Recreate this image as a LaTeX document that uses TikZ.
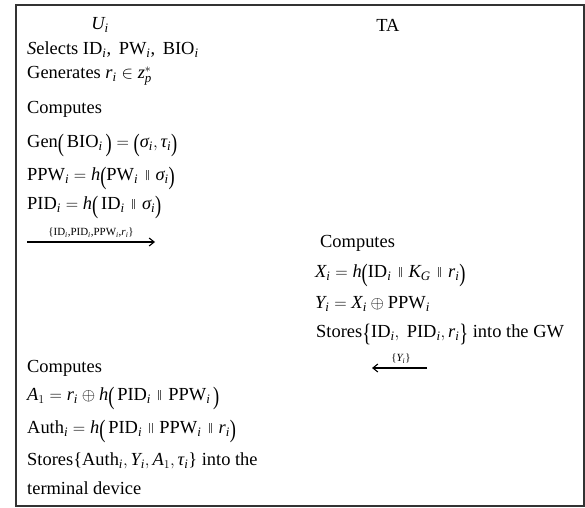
\documentclass[tikz,border=0pt]{standalone}
\usepackage{amsmath}
\usepackage{graphicx}
\usepackage{fontspec}
\setmainfont{Liberation Serif}
\usetikzlibrary{arrows.meta}
\newcommand\vi[1]{\text{\itshape #1}}
\newcommand\rmx[1]{\text{#1}}
\newcommand\LP{\mathopen{\raisebox{-0.17em}{\scalebox{1}[1.36]{(}}}}
\newcommand\RP{\mathclose{\raisebox{-0.17em}{\scalebox{1}[1.36]{)}}}}
\newcommand\LB{\mathopen{\raisebox{-0.17em}{\scalebox{1}[1.36]{\{}}}}
\newcommand\RB{\mathclose{\raisebox{-0.17em}{\scalebox{1}[1.36]{\}}}}}
\newcommand\bars{\mathbin{\hspace{3.5pt}\textcolor{black!65}{\rule[0.05ex]{0.6pt}{1.2ex}\hspace{1.5pt}\rule[0.05ex]{0.6pt}{1.2ex}}\hspace{3.5pt}}}
\newcommand\ii{_{\vi{i}}}
\begin{document}
\begin{tikzpicture}[x=1bp,y=-1bp,
  txt/.style={anchor=west,inner sep=0pt,font=\fontsize{18.5}{22}\selectfont},
  hdr/.style={inner sep=0pt,font=\fontsize{18.5}{22}\selectfont},
  lab/.style={inner sep=0pt,font=\fontsize{11}{12}\selectfont},
  msg/.style={line width=1.1bp,-{Straight Barb[length=5bp,width=8bp]}},
  frame/.style={draw=black!80,line width=1.6bp}]
\useasboundingbox (0,0) rectangle (585,508);
\node[frame,minimum width=568bp,minimum height=501bp,anchor=north west,inner sep=0pt] (box) at (15,4) {};

\node[hdr] (hU) at (100,25) {$\vi{U}\ii$};
\node[hdr] (hTA) at (388,25) {TA};

\node[txt] (l1) at (27,50) {\textit{S}elects ID$\ii$,\, PW$\ii$,\, BIO$\ii$};
\node[txt] (l2) at (27,76) {Generates $\vi{r}\ii \in \vi{z}_{\vi{p}}^{*}$};
\node[txt] (l3) at (27,109) {Computes};
\node[txt] (l4) at (27,145) {Gen$\LP\,\rmx{BIO}\ii\,\RP = \LP\vi{σ}\ii,\vi{τ}\ii\RP$};
\node[txt] (l5) at (27,178) {PPW$\ii = \vi{h}\LP\rmx{PW}\ii \bars \vi{σ}\ii\RP$};
\node[txt] (l6) at (27,207) {PID$\ii = \vi{h}\LP\,\rmx{ID}\ii \bars \vi{σ}\ii\RP$};

\coordinate (m1s) at (27,242);
\coordinate (m1e) at (155,242);
\draw[msg] (m1s) -- (m1e);
\node[lab] (m1l) at (91,233) {\{ID$\ii$,PID$\ii$,PPW$\ii$,$\vi{r}\ii$\}};

\node[txt] (r1) at (320,243) {Computes};
\node[txt] (r2) at (315,275) {$\vi{X}\ii = \vi{h}\LP\rmx{ID}\ii \bars \vi{K}_{\vi{G}} \bars \vi{r}\ii\RP$};
\node[txt] (r3) at (315,304) {$\vi{Y}\ii = \vi{X}\ii \oplus \rmx{PPW}\ii$};
\node[txt] (r4) at (316,334) {Stores$\LB\rmx{ID}\ii,\ \rmx{PID}\ii,\vi{r}\ii\RB$ into the GW};

\coordinate (m2s) at (427,368);
\coordinate (m2e) at (372,368);
\draw[msg] (m2s) -- (m2e);
\node[lab] (m2l) at (401,359) {\{$\vi{Y}\ii$\}};

\node[txt] (b1) at (27,368) {Computes};
\node[txt] (b2) at (27,398) {$\vi{A}_{1} = \vi{r}\ii \oplus \vi{h}\LP\,\rmx{PID}\ii \bars \rmx{PPW}\ii\,\RP$};
\node[txt] (b3) at (27,431) {Auth$\ii = \vi{h}\LP\,\rmx{PID}\ii \bars \rmx{PPW}\ii \bars \vi{r}\ii\RP$};
\node[txt] (b4) at (27,461) {Stores\{Auth$\ii,\vi{Y}\ii,\vi{A}_{1},\vi{τ}\ii$\} into the};
\node[txt] (b5) at (27,488) {terminal device};
\end{tikzpicture}
\end{document}
